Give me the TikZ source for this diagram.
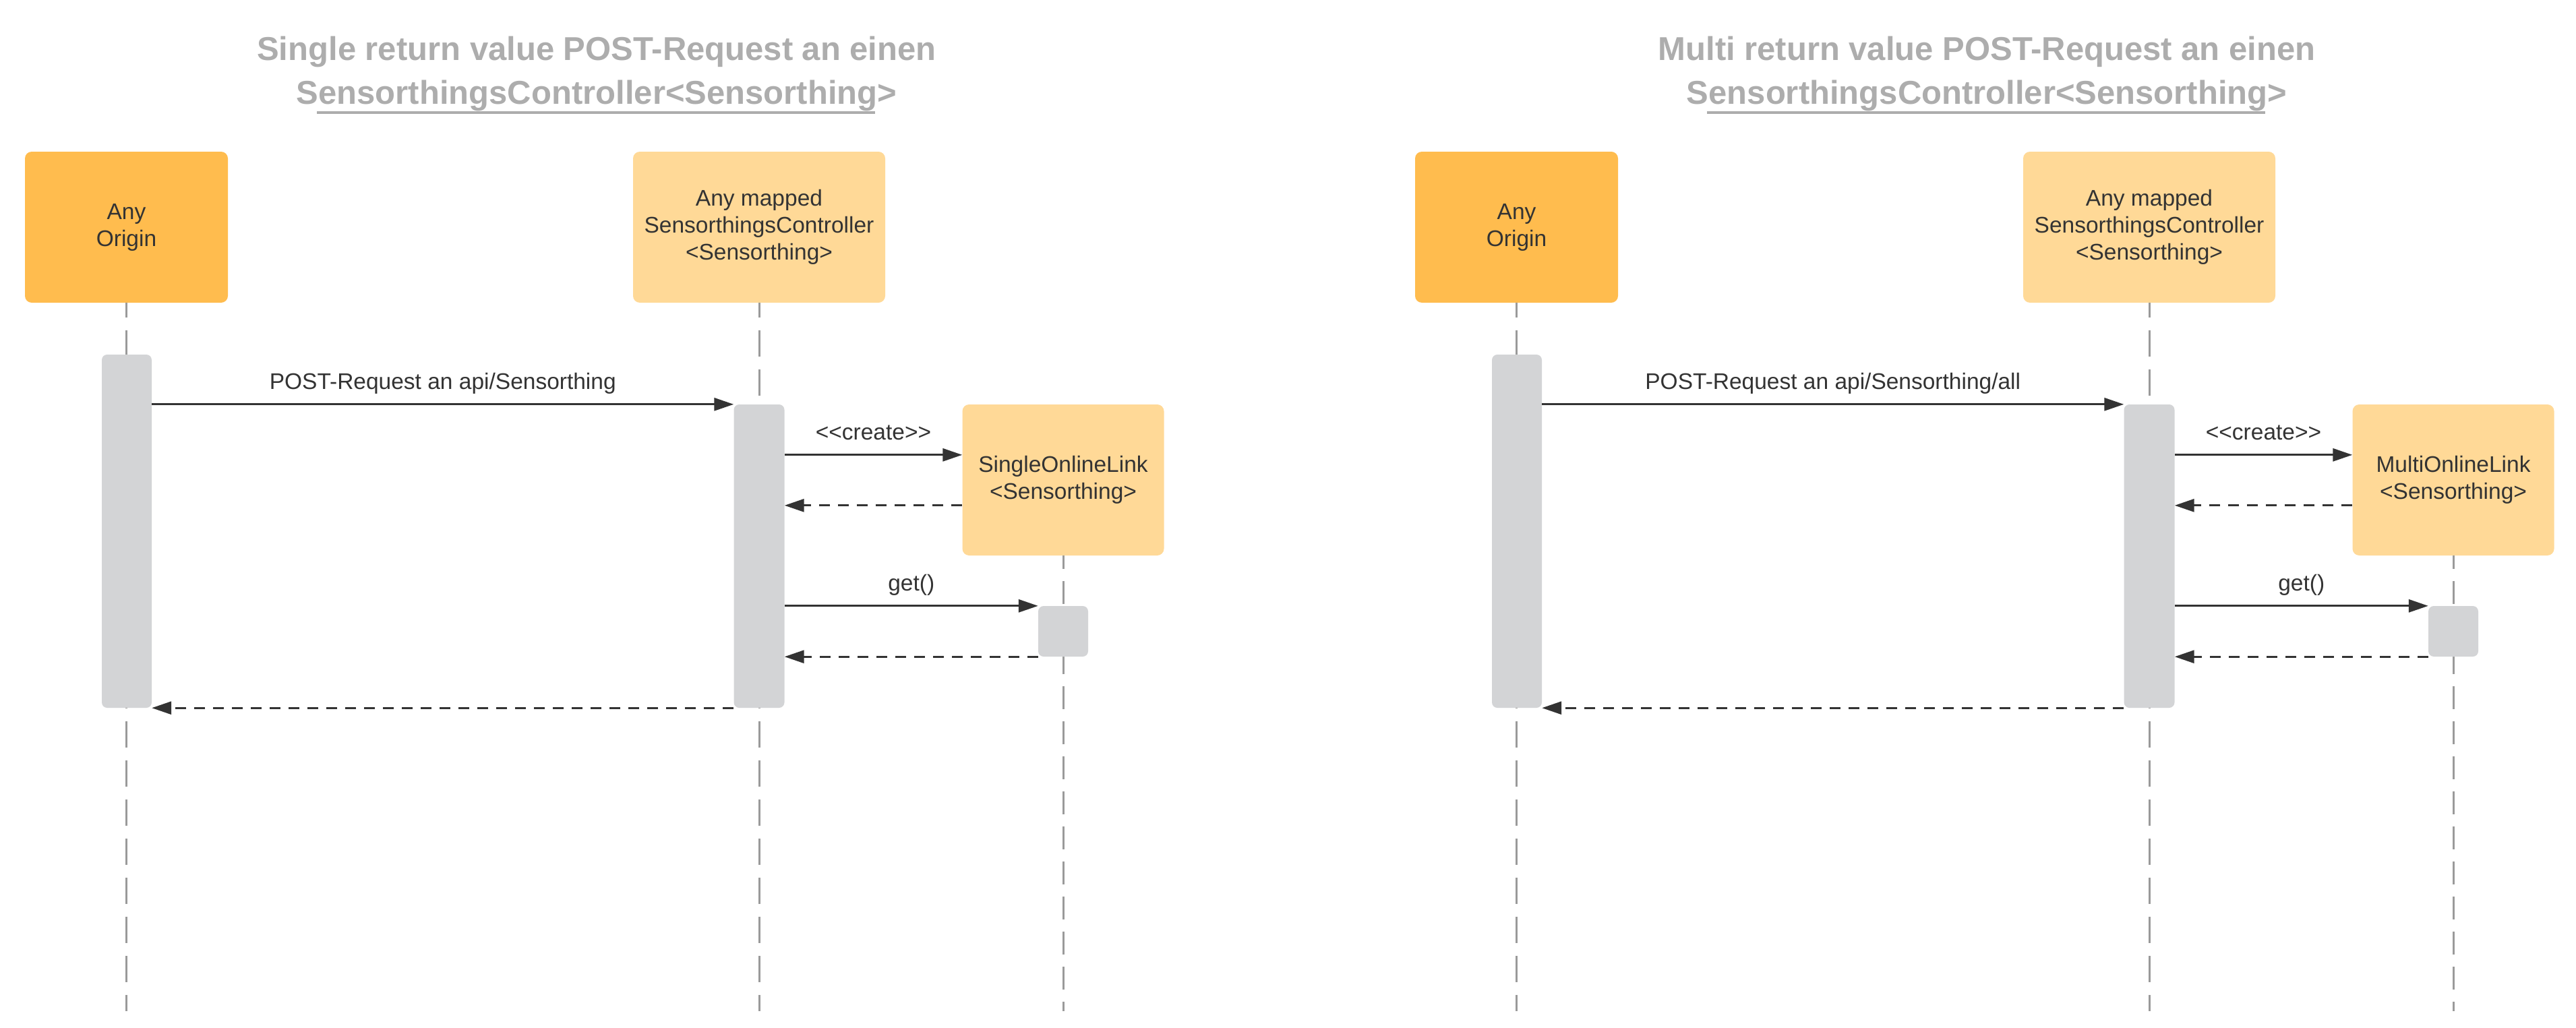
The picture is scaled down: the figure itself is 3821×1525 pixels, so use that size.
\documentclass[tikz,border=0pt]{standalone}
\usepackage{fontspec}
\setmainfont{Liberation Sans}
\usetikzlibrary{arrows.meta,calc}
\definecolor{origc}{HTML}{FFBC4E}
\definecolor{ctrlc}{HTML}{FFD997}
\definecolor{actc}{HTML}{D3D4D6}
\definecolor{txtc}{HTML}{333333}
\definecolor{ttlc}{HTML}{ADADAD}
\definecolor{lifec}{HTML}{9A9A9A}
\tikzset{
  actor/.style={rectangle, rounded corners=10pt, inner sep=0pt, align=center, text=txtc,
    font=\fontsize{33.5}{40}\selectfont},
  actbar/.style={rectangle, rounded corners=8pt, fill=actc, inner sep=0pt},
  lifeline/.style={draw=lifec, line width=3pt, dash pattern=on 39pt off 19pt, dash phase=17pt},
  shortlife/.style={draw=lifec, line width=3pt, dash pattern=on 34pt off 18pt, dash phase=14pt},
  msgarrow/.style={draw=txtc, line width=3pt, -{Triangle[length=29pt,width=19pt]}},
  retarrow/.style={msgarrow, dash pattern=on 16pt off 12pt},
  msglabel/.style={anchor=base, yshift=22pt, text=txtc, inner sep=0pt,
    font=\fontsize{33.5}{40}\selectfont},
  titletext/.style={anchor=base, text=ttlc, inner sep=0pt,
    font=\fontsize{49}{65}\selectfont\bfseries},
}
\newcommand\seqdiagram[5]{%
\begin{scope}[xshift=#1, name prefix=#2-]
  % title
  \node[titletext] (t1) at (885,90) {#3};
  \node[titletext] (t2) at (885,155) {SensorthingsController<Sensorthing>};
  \coordinate (ul1) at (470,167);
  \coordinate (ul2) at (1298,167);
  \draw[ttlc, line width=4pt] (ul1) -- (ul2);
  % participants
  \node[actor, fill=origc, minimum width=301pt, minimum height=224pt] (orig) at (187.5,337) {Any\\Origin};
  \node[actor, fill=ctrlc, minimum width=374pt, minimum height=224pt] (ctrl) at (1126,337)
    {Any mapped\\SensorthingsController\\<Sensorthing>};
  \coordinate (oend) at (188,1500);
  \coordinate (cend) at (1126,1500);
  \coordinate (send) at (1577,1500);
  \draw[lifeline] (orig.south) -- (orig.south |- oend);
  \draw[lifeline] (ctrl.south) -- (ctrl.south |- cend);
  % activations
  \node[actbar, minimum width=74pt, minimum height=524pt] (oact) at (188,788) {};
  \node[actbar, minimum width=75pt, minimum height=450pt] (cact) at (1126,825) {};
  \node[actor, fill=ctrlc, minimum width=299pt, minimum height=224pt] (sol) at (1577,712) {#5};
  \draw[shortlife] (sol.south) -- (sol.south |- send);
  \node[actbar, minimum width=74pt, minimum height=75pt] (sact) at (1577,936.5) {};
  % messages
  \draw[msgarrow] (oact.east |- cact.north) -- node[msglabel] (m1) {#4} (cact.north west);
  \draw[msgarrow] ($(cact.north east)+(0,75)$) -- node[msglabel] (m2) {<{}<create>{}>} ($(sol.north west)+(0,75)$);
  \draw[retarrow] ($(sol.north west)+(0,150)$) -- ($(cact.north east)+(0,150)$);
  \draw[msgarrow] (cact.east |- sact.north) -- node[msglabel] (m3) {get()} (sact.north west);
  \draw[retarrow] (sact.south west) -- (cact.east |- sact.south);
  \draw[retarrow] (cact.south west) -- (oact.east |- cact.south);
\end{scope}}
\begin{document}
\begin{tikzpicture}[x=1pt, y=-1pt]
  \useasboundingbox (0,0) rectangle (3821,1525);
  \fill[white] (0,0) rectangle (3821,1525);
  \seqdiagram{0pt}{L}{Single return value POST-Request an einen}{POST-Request an api/Sensorthing}{SingleOnlineLink\\<Sensorthing>}
  \seqdiagram{2062pt}{R}{Multi return value POST-Request an einen}{POST-Request an api/Sensorthing/all}{MultiOnlineLink\\<Sensorthing>}
\end{tikzpicture}
\end{document}
